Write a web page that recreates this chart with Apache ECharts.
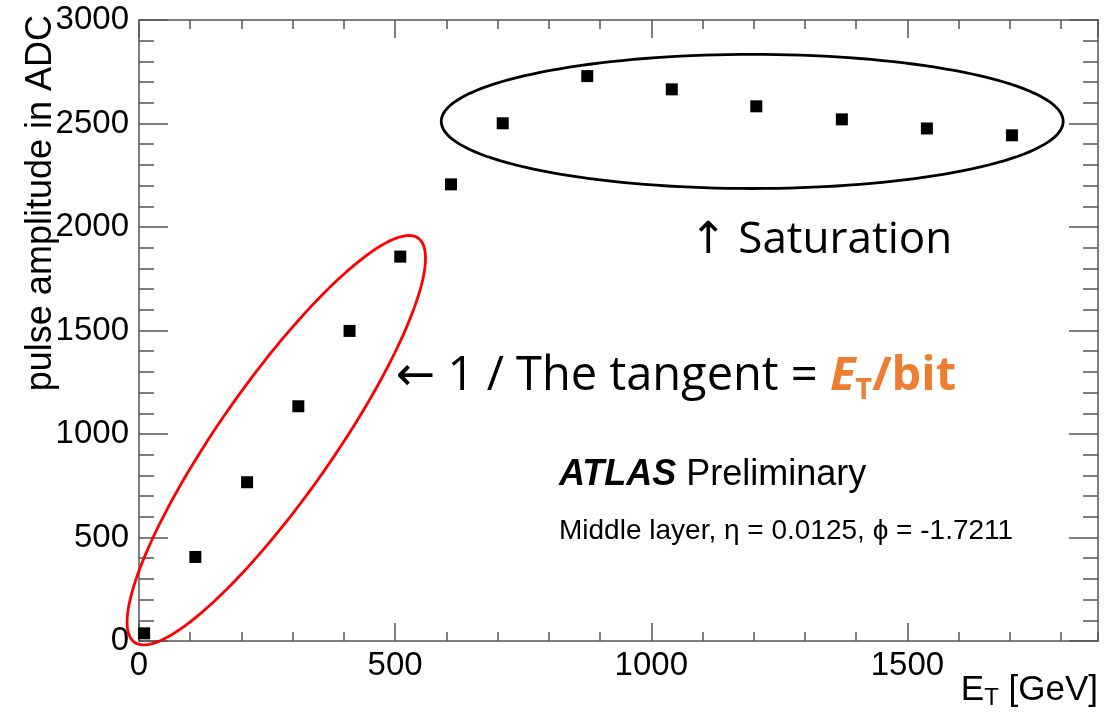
<!DOCTYPE html>
<html>
<head>
<meta charset="utf-8">
<script src="https://cdn.jsdelivr.net/npm/echarts@6/dist/echarts.min.js"></script>
<style>
  html, body { margin: 0; padding: 0; background: #fff; }
  #chart { width: 1107px; height: 714px; }
</style>
</head>
<body>
<div id="chart"></div>
<script>
// Transverse energy of each calibration point, GeV
const etGeV = [10, 110, 211, 311, 411, 510, 609, 710, 875, 1040, 1205, 1372, 1538, 1704];
// Measured pulse amplitude, ADC counts
const adcAmp = [37, 406, 767, 1134, 1498, 1857, 2206, 2501, 2729, 2665, 2583, 2520, 2476, 2443];
// Labelled axis ticks
const xTicks = [0, 500, 1000, 1500];
const yTicks = [0, 500, 1000, 1500, 2000, 2500, 3000];
const xMax = 1872;
const minorStep = 100;

// Outline rings in data space: centre plus two conjugate half-axes
const rings = [
  { c: [1197, 2510], u: [607, 0], v: [0, 324] },     // saturation plateau
  { c: [268, 970], u: [277, 976], v: [90, -160] }    // linear region
];
const ringColors = ['#000000', '#ff0000'];

const frameColor = '#555555';
const LAB = '"Liberation Sans", Arial, sans-serif';
const NOTE = '"Open Sans", "DejaVu Sans", sans-serif';
const ORANGE = '#ed7d31';

const majorX = xTicks[1] - xTicks[0];
const majorY = yTicks[1] - yTicks[0];

function axisBase(pos, interval, tickLen, withLine, withLabel, isX) {
  const ax = {
    type: 'value',
    position: pos,
    min: isX ? xTicks[0] : yTicks[0],
    max: isX ? xMax : yTicks[yTicks.length - 1],
    interval: interval,
    axisLine: { show: withLine, onZero: false, lineStyle: { color: frameColor, width: 1.5 } },
    axisTick: { show: true, inside: true, length: tickLen, lineStyle: { color: frameColor, width: 1.5 } },
    splitLine: { show: false },
    minorTick: { show: false },
    axisLabel: { show: false }
  };
  if (withLabel) {
    ax.axisLabel = {
      show: true,
      color: '#000',
      fontFamily: LAB,
      fontSize: 33,
      margin: isX ? 8 : 10,
      showMaxLabel: !isX,
      hideOverlap: false,
      formatter: function (v) { return String(v); }
    };
  }
  return ax;
}

const chart = echarts.init(document.getElementById('chart'), null, { renderer: 'canvas' });

chart.setOption({
  animation: false,
  backgroundColor: '#ffffff',
  grid: { left: 139, right: 9, top: 20, bottom: 73, containLabel: false, outerBoundsMode: 'none' },
  xAxis: [
    axisBase('bottom', majorX, 18, true, true, true),
    axisBase('bottom', minorStep, 9, false, false, true),
    axisBase('top', majorX, 18, true, false, true),
    axisBase('top', minorStep, 9, false, false, true)
  ],
  yAxis: [
    axisBase('left', majorY, 29, true, true, false),
    axisBase('left', minorStep, 15, false, false, false),
    axisBase('right', majorY, 29, true, false, false),
    axisBase('right', minorStep, 15, false, false, false)
  ],
  series: [
    {
      type: 'scatter',
      xAxisIndex: 0,
      yAxisIndex: 0,
      symbol: 'rect',
      symbolSize: 12,
      itemStyle: { color: '#000', opacity: 1 },
      data: etGeV.map((x, i) => [x, adcAmp[i]]),
      z: 5
    },
    {
      type: 'custom',
      xAxisIndex: 0,
      yAxisIndex: 0,
      silent: true,
      clip: false,
      data: rings.map((r, i) => [r.c[0], r.c[1], i]),
      renderItem: function (params, api) {
        const r = rings[params.dataIndex];
        const pts = [];
        const n = 160;
        for (let k = 0; k <= n; k++) {
          const t = 2 * Math.PI * k / n;
          const ct = Math.cos(t), st = Math.sin(t);
          pts.push(api.coord([
            r.c[0] + r.u[0] * ct + r.v[0] * st,
            r.c[1] + r.u[1] * ct + r.v[1] * st
          ]));
        }
        return {
          type: 'polygon',
          shape: { points: pts },
          style: { fill: 'none', stroke: ringColors[params.dataIndex], lineWidth: 2.8 }
        };
      },
      z: 4
    }
  ],
  graphic: [
    {
      type: 'text', x: 41, y: 15, rotation: Math.PI / 2,
      style: { text: 'pulse amplitude in ADC', font: '36px ' + LAB, fill: '#000', align: 'right', verticalAlign: 'middle' }
    },
    {
      type: 'text', x: 1098, y: 690,
      style: {
        text: '{e|E}{t|T}{e| [GeV]}', align: 'right', verticalAlign: 'middle', fill: '#000',
        rich: {
          e: { fontFamily: LAB, fontSize: 35, lineHeight: 40, verticalAlign: 'middle', fill: '#000' },
          t: { fontFamily: LAB, fontSize: 24, lineHeight: 20, verticalAlign: 'bottom', fill: '#000' }
        }
      }
    },
    {
      type: 'text', x: 690, y: 240,
      style: { text: '↑ Saturation', font: '44px ' + NOTE, fill: '#000', align: 'left', verticalAlign: 'middle' }
    },
    {
      type: 'text', x: 396, y: 377,
      style: {
        text: '{a|← 1 / The tangent = }{e|E}{t|T}{b|/bit}', align: 'left', verticalAlign: 'middle',
        rich: {
          a: { fontFamily: NOTE, fontSize: 47, lineHeight: 56, fill: '#000', verticalAlign: 'middle' },
          e: { fontFamily: NOTE, fontSize: 47, lineHeight: 56, fill: ORANGE, fontWeight: 'bold', fontStyle: 'italic', verticalAlign: 'middle' },
          t: { fontFamily: NOTE, fontSize: 29, lineHeight: 25, fill: ORANGE, fontWeight: 'bold', verticalAlign: 'bottom' },
          b: { fontFamily: NOTE, fontSize: 47, lineHeight: 56, fill: ORANGE, fontWeight: 'bold', verticalAlign: 'middle' }
        }
      }
    },
    {
      type: 'text', x: 559, y: 475,
      style: {
        text: '{a|ATLAS}{p| Preliminary}', align: 'left', verticalAlign: 'middle',
        rich: {
          a: { fontFamily: LAB, fontSize: 36, fontWeight: 'bold', fontStyle: 'italic', fill: '#000' },
          p: { fontFamily: LAB, fontSize: 36, fill: '#000' }
        }
      }
    },
    {
      type: 'text', x: 559, y: 531,
      style: { text: 'Middle layer, η = 0.0125, ϕ = -1.7211', font: '28px ' + LAB, fill: '#000', align: 'left', verticalAlign: 'middle' }
    }
  ]
});
</script>
</body>
</html>
